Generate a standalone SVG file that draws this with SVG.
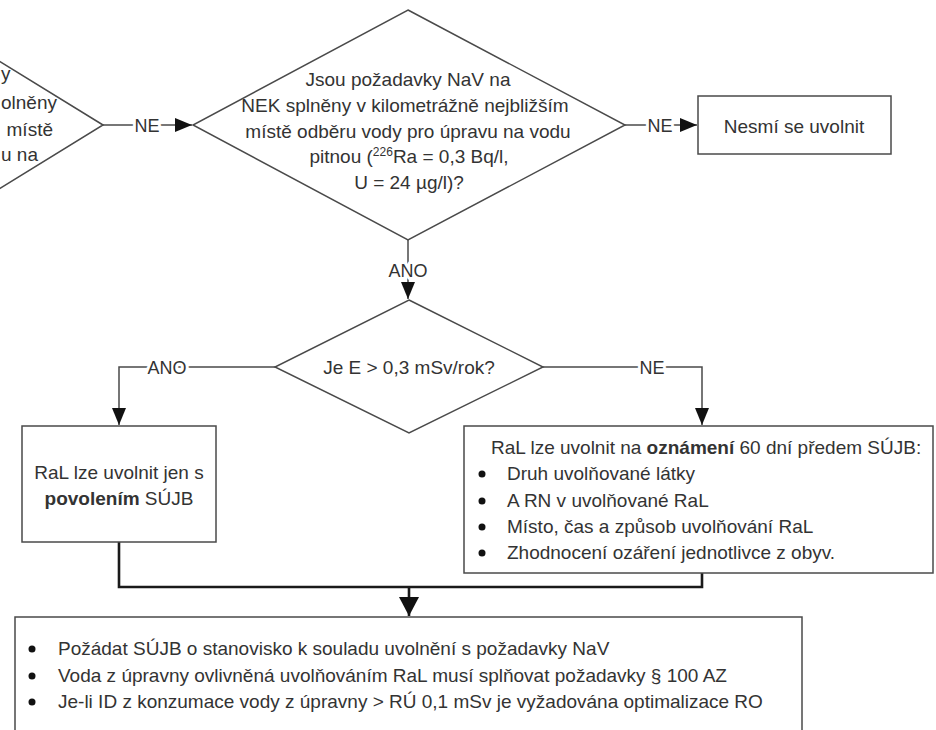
<svg xmlns="http://www.w3.org/2000/svg" width="936" height="730" viewBox="0 0 936 730">
<style>
.shape{fill:#fff;stroke:#4a4a4a;stroke-width:1.5}
.t{font-family:"Liberation Sans",Arial,sans-serif;font-size:19px;fill:#333}
.c{text-anchor:middle}
.b{font-weight:bold}
.conn{fill:none;stroke:#4a4a4a;stroke-width:1.5}
.thick{fill:none;stroke:#1a1a1a;stroke-width:2.6}
.lbl{font-family:"Liberation Sans",Arial,sans-serif;font-size:18px;fill:#333;text-anchor:middle;stroke:#fff;stroke-width:6;paint-order:stroke;stroke-linejoin:round}
</style>
<defs>
<marker id="ah" markerWidth="17" markerHeight="14" refX="17" refY="7" orient="auto" markerUnits="userSpaceOnUse"><path d="M0,0 L17,7 L0,14 z" fill="#111"/></marker>
<marker id="ahb" markerWidth="19" markerHeight="20" refX="19" refY="10" orient="auto" markerUnits="userSpaceOnUse"><path d="M0,0 L19,10 L0,20 z" fill="#111"/></marker>
</defs>
<rect width="936" height="730" fill="#fff"/>

<g id="connectors">
  <path class="conn" d="M103,125 H192" marker-end="url(#ah)"/>
  <text class="lbl" x="147" y="132">NE</text>
  <path class="conn" d="M625,125 H697" marker-end="url(#ah)"/>
  <text class="lbl" x="660" y="132">NE</text>
  <path class="conn" d="M408,240 V299" marker-end="url(#ah)"/>
  <text class="lbl" x="408" y="277">ANO</text>
  <path class="conn" d="M275,367 H119 V425" marker-end="url(#ah)"/>
  <text class="lbl" x="167" y="374">ANO</text>
  <path class="conn" d="M543,367 H702 V425" marker-end="url(#ah)"/>
  <text class="lbl" x="652" y="374">NE</text>
  <path class="thick" d="M119,542 V587 H702 V573"/>
  <path class="thick" d="M409,587 V616" marker-end="url(#ahb)"/>
</g>

<g id="decision0">
  <polygon class="shape" points="103,125 -84,10 -271,125 -84,240"/>
  <text class="t" x="1" y="80">y</text>
  <text class="t" x="1" y="109">olněny</text>
  <text class="t" x="53" y="136" text-anchor="end">místě</text>
  <text class="t" x="1" y="161">u na</text>
</g>

<g id="decision1">
  <polygon class="shape" points="408,10 625,125 408,240 193,125"/>
  <text class="t c" x="408" y="86">Jsou požadavky NaV na</text>
  <text class="t c" x="405" y="112">NEK splněny v kilometrážně nejbližším</text>
  <text class="t c" x="408" y="138">místě odběru vody pro úpravu na vodu</text>
  <text class="t c" x="409" y="163">pitnou (<tspan font-size="12" dy="-7">226</tspan><tspan dy="7">Ra = 0,3 Bq/l,</tspan></text>
  <text class="t c" x="409" y="189">U = 24 µg/l)?</text>
</g>

<g id="nesmi">
  <rect class="shape" x="698" y="96" width="193" height="58"/>
  <text class="t c" x="794" y="133">Nesmí se uvolnit</text>
</g>

<g id="decision2">
  <polygon class="shape" points="409,300 543,367 409,433 275,367"/>
  <text class="t c" x="409" y="374">Je E &gt; 0,3 mSv/rok?</text>
</g>

<g id="povoleni">
  <rect class="shape" x="22" y="426" width="194" height="116"/>
  <text class="t c" x="119" y="479">RaL lze uvolnit jen s</text>
  <text class="t c" x="119" y="505"><tspan class="b">povolením</tspan> SÚJB</text>
</g>

<g id="oznameni">
  <rect class="shape" x="464" y="426" width="469" height="147"/>
  <text class="t" x="491" y="454">RaL lze uvolnit na <tspan class="b">oznámení</tspan> 60 dní předem SÚJB:</text>
  <circle cx="482" cy="474" r="3.5" fill="#111"/>
  <text class="t" x="507" y="480">Druh uvolňované látky</text>
  <circle cx="482" cy="501" r="3.5" fill="#111"/>
  <text class="t" x="507" y="507">A RN v uvolňované RaL</text>
  <circle cx="482" cy="527" r="3.5" fill="#111"/>
  <text class="t" x="507" y="533">Místo, čas a způsob uvolňování RaL</text>
  <circle cx="482" cy="553" r="3.5" fill="#111"/>
  <text class="t" x="507" y="559">Zhodnocení ozáření jednotlivce z obyv.</text>
</g>

<g id="zaver">
  <rect class="shape" x="15" y="617" width="787" height="130"/>
  <circle cx="32" cy="649" r="3.5" fill="#111"/>
  <text class="t" x="58" y="655">Požádat SÚJB o stanovisko k souladu uvolnění s požadavky NaV</text>
  <circle cx="32" cy="676" r="3.5" fill="#111"/>
  <text class="t" x="58" y="682">Voda z úpravny ovlivněná uvolňováním RaL musí splňovat požadavky § 100 AZ</text>
  <circle cx="32" cy="702" r="3.5" fill="#111"/>
  <text class="t" x="58" y="708">Je-li ID z konzumace vody z úpravny &gt; RÚ 0,1 mSv je vyžadována optimalizace RO</text>
</g>
</svg>
